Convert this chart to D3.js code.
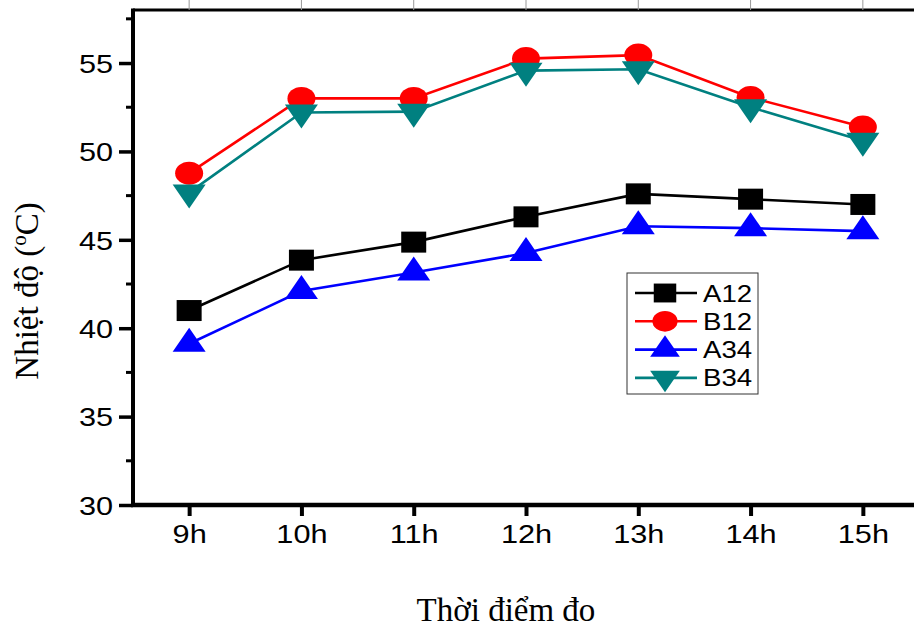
<!DOCTYPE html>
<html>
<head>
<meta charset="utf-8">
<script src="https://cdn.jsdelivr.net/npm/d3@7"></script>
<style>
  body { margin: 0; background: #fff; }
  svg { display: block; }
</style>
</head>
<body>
<div id="chart"></div>
<script>
// ── data ──
const hours = [9, 10, 11, 12, 13, 14, 15];
const hourLabels = ["9h", "10h", "11h", "12h", "13h", "14h", "15h"];
const yTicks = [30, 35, 40, 45, 50, 55];
const seriesNames = ["A12", "B12", "A34", "B34"];
const a12 = [41.0, 43.85, 44.87, 46.3, 47.6, 47.3, 47.0];
const b12 = [48.77, 53.0, 53.0, 55.25, 55.45, 53.05, 51.38];
const a34 = [39.12, 42.1, 43.15, 44.25, 45.77, 45.66, 45.49];
const b34 = [47.67, 52.2, 52.25, 54.57, 54.65, 52.5, 50.6];

const W = 914, H = 627;
const M = { l: 133, t: 10, r: -5, b: 122 };
const SX = 1.18; // glyphs in the picture are a bit wider than tall

const svg = d3.select("#chart").append("svg")
  .attr("width", W).attr("height", H);

const x = d3.scaleLinear().domain([8.5, 15.5]).range([M.l, W - M.r]);
const y = d3.scaleLinear().domain([30, 58]).range([H - M.b, M.t]);

const series = [
  { name: seriesNames[0], vals: a12, color: "#000000", shape: "square" },
  { name: seriesNames[1], vals: b12, color: "#ff0000", shape: "circle" },
  { name: seriesNames[2], vals: a34, color: "#0000ff", shape: "up" },
  { name: seriesNames[3], vals: b34, color: "#008080", shape: "down" },
];

// marker shapes, centred on the data point (triangles on their centroid)
function markerPath(shape, k) {
  const p = d3.path();
  if (shape === "square") {
    p.rect(-12.5 * k, -10.5 * k, 25 * k, 21 * k);
  } else if (shape === "circle") {
    p.ellipse
      ? p.ellipse(0, 0, 14 * k, 11.5 * k, 0, 0, 2 * Math.PI)
      : null;
  } else if (shape === "up") {
    p.moveTo(0, -16 * k); p.lineTo(16.5 * k, 8 * k); p.lineTo(-16.5 * k, 8 * k); p.closePath();
  } else {
    p.moveTo(0, 16 * k); p.lineTo(16.5 * k, -8 * k); p.lineTo(-16.5 * k, -8 * k); p.closePath();
  }
  return p.toString();
}
function ellipseD(rx, ry) {
  return `M${-rx},0A${rx},${ry} 0 1,0 ${rx},0A${rx},${ry} 0 1,0 ${-rx},0Z`;
}
function shapeD(shape, k) {
  return shape === "circle" ? ellipseD(14 * k, 11.5 * k) : markerPath(shape, k);
}

// ── axes ──
const axisCol = "#000";
// top frame line + faint ticks
svg.append("line")
  .attr("x1", M.l).attr("x2", W + 10)
  .attr("y1", M.t).attr("y2", M.t)
  .attr("stroke", axisCol).attr("stroke-width", 3);
svg.append("g").selectAll("line").data(hours).join("line")
  .attr("x1", d => x(d)).attr("x2", d => x(d))
  .attr("y1", 0).attr("y2", M.t)
  .attr("stroke", "#999").attr("stroke-width", 1);

// left axis
const gy = svg.append("g").attr("transform", `translate(${M.l},0)`)
  .call(d3.axisLeft(y).tickValues(yTicks).tickSize(14).tickPadding(6).tickFormat(d3.format("d")));
gy.select(".domain").remove();
gy.selectAll(".tick line").attr("stroke-width", 3.5).attr("x2", -14);
gy.selectAll(".tick text")
  .attr("font-family", "Liberation Sans, Arial, sans-serif")
  .attr("font-size", 26).attr("fill", "#000")
  .attr("dy", "0.36em")
  .attr("transform", `scale(${SX},1)`)
  .attr("x", -20 / SX);
// minor ticks
svg.append("g").selectAll("line").data([32.5, 37.5, 42.5, 47.5, 52.5, 57.5]).join("line")
  .attr("x1", M.l - 7).attr("x2", M.l)
  .attr("y1", d => y(d)).attr("y2", d => y(d))
  .attr("stroke", axisCol).attr("stroke-width", 3);
svg.append("line")
  .attr("x1", M.l).attr("x2", M.l)
  .attr("y1", M.t - 1.5).attr("y2", y(30) + 2)
  .attr("stroke", axisCol).attr("stroke-width", 4);

// bottom axis
const gx = svg.append("g").attr("transform", `translate(0,${y(30)})`)
  .call(d3.axisBottom(x).tickValues(hours).tickSize(11).tickPadding(8)
    .tickFormat((d, i) => hourLabels[i]));
gx.select(".domain").remove();
gx.selectAll(".tick line").attr("stroke-width", 4);
gx.selectAll(".tick text")
  .attr("font-family", "Liberation Sans, Arial, sans-serif")
  .attr("font-size", 26).attr("fill", "#000")
  .attr("y", 0).attr("dy", 38)
  .attr("transform", `scale(${SX},1)`);
svg.append("line")
  .attr("x1", M.l - 2).attr("x2", W + 10)
  .attr("y1", y(30)).attr("y2", y(30))
  .attr("stroke", axisCol).attr("stroke-width", 4.5);

// ── series ──
const line = d3.line().x((d, i) => x(hours[i])).y(d => y(d));
series.forEach(s => {
  const g = svg.append("g");
  g.append("path").datum(s.vals)
    .attr("d", line)
    .attr("fill", "none").attr("stroke", s.color).attr("stroke-width", 2.6);
  g.selectAll("path.mk").data(s.vals).join("path")
    .attr("class", "mk")
    .attr("transform", (d, i) => `translate(${x(hours[i])},${y(d)})`)
    .attr("d", shapeD(s.shape, 1))
    .attr("fill", s.color);
});

// ── legend ──
const lg = svg.append("g").attr("transform", "translate(627,273)");
lg.append("rect")
  .attr("x", 0).attr("y", 0).attr("width", 131).attr("height", 121)
  .attr("fill", "#fff").attr("stroke", "#333").attr("stroke-width", 1);
series.forEach((s, i) => {
  const cy = 20 + i * 28.3;
  lg.append("line")
    .attr("x1", 8).attr("x2", 70).attr("y1", cy).attr("y2", cy)
    .attr("stroke", s.color).attr("stroke-width", 2.6);
  lg.append("path")
    .attr("transform", `translate(38,${cy})`)
    .attr("d", shapeD(s.shape, 0.9))
    .attr("fill", s.color);
  lg.append("text")
    .attr("transform", `translate(76,${cy + 8.5}) scale(1.2,1)`)
    .attr("font-family", "Liberation Sans, Arial, sans-serif")
    .attr("font-size", 23).attr("fill", "#000")
    .text(s.name);
});

// ── axis titles ──
svg.append("text")
  .attr("x", 506).attr("y", 621)
  .attr("text-anchor", "middle")
  .attr("font-family", "Liberation Serif, Times New Roman, serif")
  .attr("font-size", 33).attr("fill", "#000")
  .text("Thời điểm đo");

const yt = svg.append("text")
  .attr("transform", "translate(38,291) rotate(-90)")
  .attr("text-anchor", "middle")
  .attr("font-family", "Liberation Serif, Times New Roman, serif")
  .attr("font-size", 33).attr("fill", "#000");
yt.append("tspan").text("Nhiệt độ (");
yt.append("tspan").attr("font-size", 21).attr("dy", -12).text("o");
yt.append("tspan").attr("dy", 12).text("C)");
</script>
</body>
</html>
